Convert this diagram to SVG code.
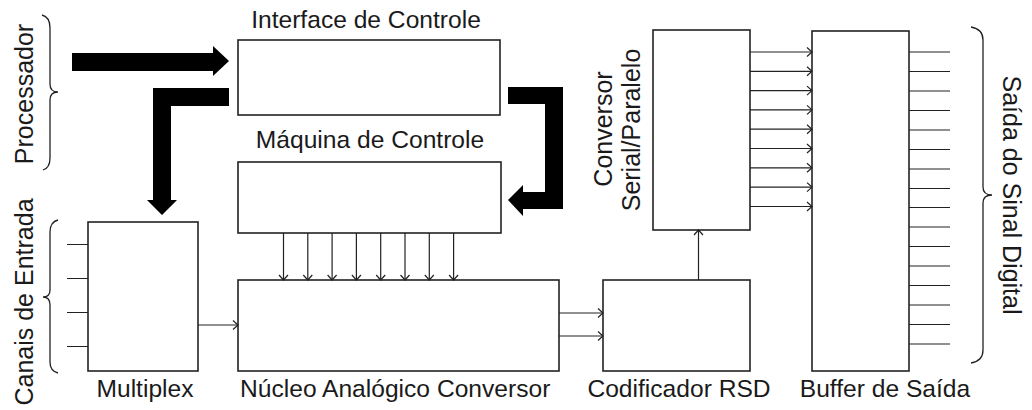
<svg xmlns="http://www.w3.org/2000/svg" width="1032" height="410" viewBox="0 0 1032 410">
<style>
.box{fill:#fff;stroke:#222;stroke-width:1.6}
.ln{fill:none;stroke:#222;stroke-width:1.2}
.arr{fill:none;stroke:#222;stroke-width:1.2;marker-end:url(#ah)}
.brace{fill:none;stroke:#222;stroke-width:1.3}
.big{fill:#000;stroke:none}
text{font-family:"Liberation Sans",Arial,sans-serif;font-size:24.6px;fill:#1a1a1a}
.rot{font-size:25px;text-anchor:middle}
.c{text-anchor:middle}
</style>
<defs>
<marker id="ah" markerUnits="userSpaceOnUse" markerWidth="14" markerHeight="14" refX="7" refY="7" orient="auto" overflow="visible">
<path d="M2,2.5 L7,7 L2,11.5" fill="none" stroke="#222" stroke-width="1.2"/>
</marker>
</defs>

<g id="processador-label">
<path class="brace" d="M42,15 Q50,17 50,28 L50,84 Q50,92 58,92 Q50,92 50,100 L50,158 Q50,168 43,170"/>
<text class="rot" transform="translate(33,94) rotate(-90)">Processador</text>
</g>

<g id="canais-label">
<path class="brace" d="M58,220 Q50,222 50,232 L50,290 Q50,297 43,297 Q50,297 50,305 L50,362 Q50,371 58,373"/>
<text class="rot" transform="translate(33,302) rotate(-90)">Canais de Entrada</text>
</g>

<g id="interface">
<rect class="box" x="238" y="40" width="262" height="75"/>
<text class="c" x="366" y="28">Interface de Controle</text>
</g>

<g id="maquina">
<rect class="box" x="238" y="162" width="263" height="71"/>
<text class="c" x="370" y="148">Máquina de Controle</text>
</g>

<g id="multiplex">
<rect class="box" x="88" y="222" width="110" height="149"/>
<text class="c" x="145" y="397">Multiplex</text>
</g>

<g id="nucleo">
<rect class="box" x="238" y="280" width="321" height="91"/>
<text x="240" y="397">Núcleo Analógico Conversor</text>
</g>

<g id="codificador">
<rect class="box" x="603" y="280" width="147" height="91"/>
<text class="c" x="679" y="397">Codificador RSD</text>
</g>

<g id="conversor">
<rect class="box" x="653" y="30" width="97" height="200"/>
<text class="rot" transform="translate(612,129) rotate(-90)">Conversor</text>
<text class="rot" transform="translate(640,130) rotate(-90)">Serial/Paralelo</text>
</g>

<g id="buffer">
<rect class="box" x="812" y="31" width="97" height="340"/>
<text class="c" x="885" y="397">Buffer de Saída</text>
</g>

<g id="saida-label">
<path class="brace" d="M971,27 Q983,29 983,40 L983,187 Q983,195 992,195 Q983,195 983,203 L983,350 Q983,361 971,363"/>
<text class="rot" transform="translate(1003,195) rotate(90)">Saída do Sinal Digital</text>
</g>

<g id="connectors">
<!-- thick arrows -->
<path class="big" d="M72,53 L213,53 L213,46 L229,61 L213,76 L213,71 L72,71 Z"/>
<path class="big" d="M229,88 L229,106 L171,106 L171,200 L177,200 L162,215 L147,200 L153,200 L153,88 Z"/>
<path class="big" d="M508,87 L563,87 L563,209 L523,209 L523,216 L508,200 L523,185 L523,192 L545,192 L545,104 L508,104 Z"/>
<!-- inputs to multiplex -->
<path class="ln" d="M67,244.5 H88 M67,278.5 H88 M67,312.5 H88 M67,346.5 H88"/>
<!-- multiplex to nucleo -->
<line class="arr" x1="198" y1="325" x2="238" y2="325"/>
<!-- maquina to nucleo -->
<line class="arr" x1="283.5" y1="233" x2="283.5" y2="280"/>
<line class="arr" x1="307.8" y1="233" x2="307.8" y2="280"/>
<line class="arr" x1="332.1" y1="233" x2="332.1" y2="280"/>
<line class="arr" x1="356.4" y1="233" x2="356.4" y2="280"/>
<line class="arr" x1="380.7" y1="233" x2="380.7" y2="280"/>
<line class="arr" x1="405" y1="233" x2="405" y2="280"/>
<line class="arr" x1="429.3" y1="233" x2="429.3" y2="280"/>
<line class="arr" x1="453.6" y1="233" x2="453.6" y2="280"/>
<!-- nucleo to codificador -->
<line class="arr" x1="559" y1="313" x2="603" y2="313"/>
<line class="arr" x1="559" y1="336" x2="603" y2="336"/>
<!-- codificador to conversor -->
<line class="arr" x1="698.5" y1="280" x2="698.5" y2="230"/>
<!-- conversor to buffer -->
<line class="arr" x1="750" y1="52" x2="812" y2="52"/>
<line class="arr" x1="750" y1="71.3" x2="812" y2="71.3"/>
<line class="arr" x1="750" y1="90.6" x2="812" y2="90.6"/>
<line class="arr" x1="750" y1="109.9" x2="812" y2="109.9"/>
<line class="arr" x1="750" y1="129.2" x2="812" y2="129.2"/>
<line class="arr" x1="750" y1="148.5" x2="812" y2="148.5"/>
<line class="arr" x1="750" y1="167.8" x2="812" y2="167.8"/>
<line class="arr" x1="750" y1="187.1" x2="812" y2="187.1"/>
<line class="arr" x1="750" y1="206.5" x2="812" y2="206.5"/>
<!-- buffer outputs -->
<path class="ln" d="M909,52 H950 M909,71.5 H950 M909,91 H950 M909,110.5 H950 M909,130 H950 M909,149.5 H950 M909,169 H950 M909,188.5 H950 M909,207.5 H950 M909,227 H950 M909,246.5 H950 M909,266 H950 M909,285.5 H950 M909,305 H950 M909,324.5 H950 M909,344 H950"/>
</g>
</svg>
